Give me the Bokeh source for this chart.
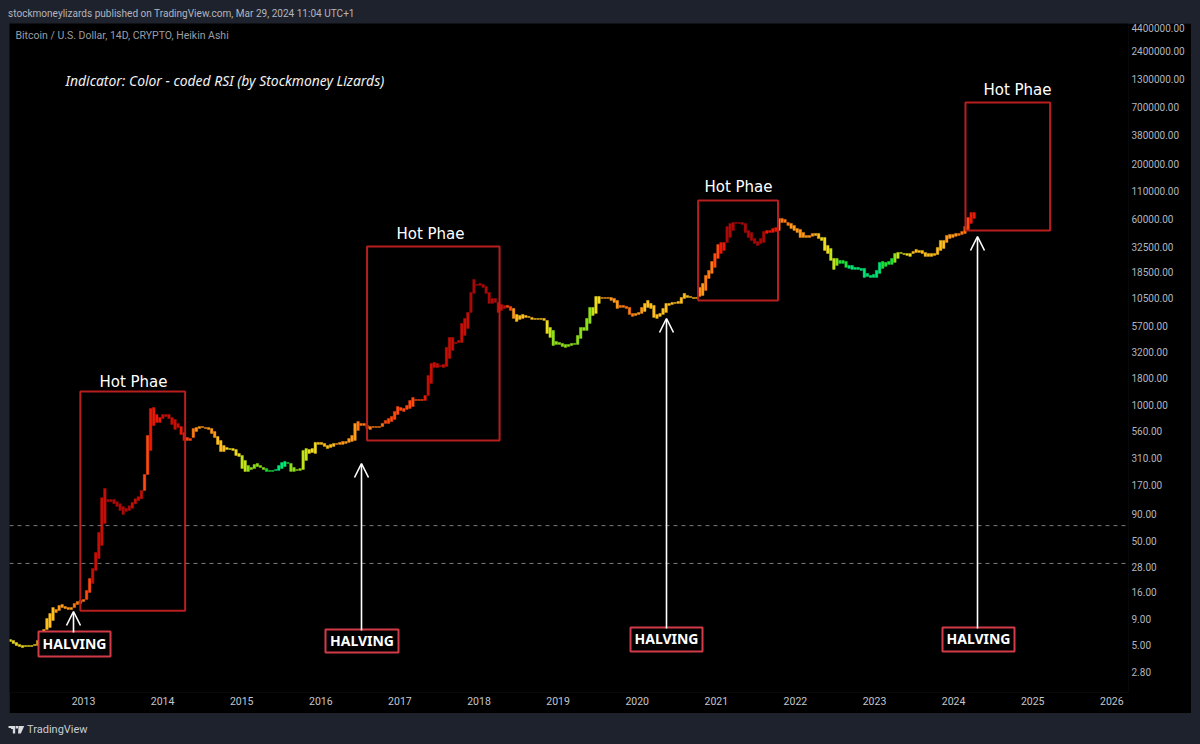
from bokeh.embed import file_html
from bokeh.layouts import column
from bokeh.resources import INLINE
from bokeh.plotting import figure
from bokeh.models import (ColumnDataSource, LinearColorMapper, FixedTicker, NumeralTickFormatter,
                          BasicTickFormatter, Range1d, Span, Label, Arrow, OpenHead)

# ---- data ----
bar_high = [5.67,5.55,5.31,5.08,4.97,4.97,4.97,4.97,5.08,5.55,
6.62,7.06,9.01,10.05,11.47,10.98,12.0,12.26,11.73,11.47,
11.47,12.53,13.1,13.39,13.69,16.69,21.75,27.1,38.6,59.9,
129,158,124,124,124,118,113,106,102,108,
116,126,132,151,215,508,921,941,806,756,
806,806,806,755,723,662,619,543,486,475,
593,606,619,619,606,606,593,555,497,455,
407,390,381,381,373,342,327,293,262,251,
268,274,262,251,245,235,235,240,262,280,
287,280,274,251,240,245,365,381,373,381,
436,436,436,426,407,417,426,426,436,445,
445,475,508,662,691,662,662,633,619,619,
619,619,662,707,739,772,862,961,941,921,
984,1098,1173,1122,1122,1122,1226,1905,2483,2540,
2483,2376,2430,3533,4404,4404,3945,4122,5998,6695,
7640,11880,15800,14160,14480,14160,13560,11880,10400,10400,
9525,9115,8920,8920,8725,8345,7310,7150,7310,7150,
7000,6845,6695,6695,6695,6695,6406,5490,5139,4030,
3944,3860,3775,3775,3860,3860,4602,5490,5490,6695,
8535,8535,10870,10870,10630,10630,10630,10630,10400,9955,
8920,8920,8725,8535,7475,7475,7640,8535,9320,9955,
9320,8920,7310,7475,8345,9320,9320,9525,9525,9740,
10630,11620,11100,10870,10630,10630,13260,14480,17280,19290,
23520,28050,34210,35750,35750,50870,54360,55560,55560,55560,
55560,54360,46580,44570,39060,36550,39060,45560,46580,46580,
48680,49760,60690,60690,59360,55560,54360,52000,48680,47620,
44570,41720,41720,43600,43600,43600,39920,39920,33470,31320,
25130,25130,24040,24040,23520,21530,21530,20620,20620,20160,
20160,18050,17280,17660,19290,23010,23520,23010,23520,25130,
28050,28670,28670,28050,28050,28050,29310,30640,29970,29970,
28670,28050,28050,28050,32020,37370,37370,41720,42650,42650,
43600,43600,45560,50870,62040,69270,69270]

bar_low = [5.43,5.19,4.97,4.86,4.75,4.86,4.86,4.86,4.97,4.97,
5.80,6.47,7.06,7.39,8.62,10.27,10.74,11.47,11.22,10.98,
10.98,11.47,12.26,12.53,13.1,13.69,15.97,19.47,25.9,33.8,
45,73.1,118,118,113,106,97.3,89.1,95.2,97.3,
102,113,121,126,151,215,365,633,677,677,
739,772,739,647,580,605,519,455,455,455,
486,555,593,606,593,580,531,486,417,357,
357,373,373,365,327,320,245,230,230,240,
245,256,251,240,230,230,230,235,235,245,
256,274,230,230,235,235,240,293,342,349,
342,417,417,399,381,390,399,417,417,417,
426,436,445,455,567,633,633,593,580,606,
606,606,619,662,662,691,723,806,881,862,
901,921,961,1098,1098,1098,1098,1226,1598,2273,
2273,2324,2273,2324,2773,3307,3860,3944,3944,4602,
5370,7640,11620,13860,13860,13260,11620,9320,9320,9525,
7640,7986,8345,8535,7986,6695,6267,6550,6695,6845,
6845,6550,6550,6550,6550,6406,4810,4404,3690,3775,
3775,3610,3533,3610,3690,3775,3775,4308,5139,5139,
5998,7150,7475,9320,10400,10400,10400,9955,9525,8345,
8535,8535,8345,7310,7000,7150,7310,7475,7810,8535,
8345,6845,6695,7000,7310,7640,8920,9115,9320,9320,
9320,10400,10630,10630,10400,10400,10870,11100,12410,16160,
18050,20620,25130,28050,29970,35750,39920,46580,54360,54360,
53170,44570,39920,37370,34980,33470,34980,35750,43600,44570,
44570,45560,46580,55560,55560,52000,48680,46580,44570,39920,
39920,39920,39920,40840,41720,39060,37370,29970,28050,24040,
19720,21530,22510,22510,20620,20160,19720,19720,19720,19290,
16520,16890,16520,16520,16520,18050,20160,21070,22010,22010,
23010,25130,28050,27440,26840,26260,28050,28670,28670,28050,
26260,26260,26260,26840,27440,29970,31320,35750,39060,39920,
40840,41720,42650,43600,46580,54360,60690]

bar_rsi = [52,52,52,52,52,52,52,52,52,57,
57,57,58,58,58,62,62,62,62,62,
62,68,68,68,68,72,74,80,82,80,
80,80,85,85,85,85,85,85,85,85,
80,80,80,80,72,73,76,76,76,76,
82,82,82,82,80,80,75,75,71,71,
66,62,60,60,60,60,60,60,57,57,
57,54,54,54,53,53,47,47,44,42,
42,42,42,42,38,36,36,33,33,33,
33,38,42,44,44,44,45,47,50,50,
53,55,55,55,55,57,57,60,60,60,
60,62,64,64,66,68,68,68,68,68,
68,68,68,70,70,70,72,73,72,72,
73,74,74,72,72,72,78,82,82,82,
82,82,82,84,84,84,80,80,82,82,
82,87,87,87,87,87,87,85,85,85,
80,80,80,70,70,64,58,58,58,58,
55,55,55,55,55,55,50,47,44,44,
44,42,42,42,44,44,44,42,42,44,
44,47,50,50,60,60,60,62,62,62,
65,65,67,67,67,62,62,60,58,58,
58,58,58,58,57,57,55,55,55,55,
57,57,58,58,58,58,64,64,66,67,
67,72,72,75,78,86,86,86,88,88,
88,86,86,86,86,86,86,86,78,78,
78,78,67,65,65,65,64,64,64,64,
64,60,60,60,58,58,53,50,50,45,
45,43,38,38,36,32,32,32,32,32,
31,31,31,31,34,34,35,35,35,37,
40,45,45,50,50,50,55,55,55,55,
56,56,56,56,56,57,57,62,63,63,
63,66,66,68,72,76,78]

first_bar_year = 2012.075
bar_step_year = 0.03856
year_ticks = [2013,2014,2015,2016,2017,2018,2019,2020,2021,2022,2023,2024,2025,2026]
price_ticks = [4400000,2400000,1300000,700000,380000,200000,110000,60000,32500,18500,10500,
               5700,3200,1800,1000,560,310,170,90,50,28,16,9,5,2.8]
level_prices = [69.7, 30.3]

hot_left = [2012.96, 2016.585, 2020.77, 2024.15]
hot_right = [2014.285, 2018.26, 2021.78, 2025.22]
hot_low = [10.7, 455, 9955, 46580]
hot_high = [1340, 32730, 90200, 780000]

# ---- page geometry: reference pixels -> chart coordinates (annotations only) ----
PAGE_W, PAGE_H = 1200, 744
CHART_L, CHART_R, CHART_T, CHART_B = 9, 1191, 23, 713
F_RIGHT, F_BOTTOM = 1128, 692
PX_PER_YEAR = 79.1
PX_PER_DECADE = 104.5
def year_at(px):
    return 2013 + (px - 83) / PX_PER_YEAR
def price_at(py):
    return 2.8 * 10 ** ((671 - py) / PX_PER_DECADE)

BG = "#1e222d"

def strip(height, top_px):
    """A plain figure of the page colour, in reference-pixel coordinates."""
    s = figure(width=PAGE_W, height=height, output_backend="svg", toolbar_location=None,
               x_range=Range1d(0, PAGE_W), y_range=Range1d(top_px + height, top_px),
               min_border=0, background_fill_color=BG, border_fill_color=BG,
               outline_line_color=None, x_axis_location=None, y_axis_location=None)
    s.grid.visible = False
    return s

header = strip(CHART_T, 0)
header.add_layout(Label(x=8, y=13, text="stockmoneylizards published on TradingView.com, Mar 29, 2024 11:04 UTC+1",
                        text_color="#b2b5be", text_font="Roboto", text_font_size="10.05px", text_baseline="middle"))

footer = strip(PAGE_H - CHART_B, CHART_B)
footer.add_layout(Label(x=28, y=729, text="TradingView", text_color="#c8ccd4", text_font="Roboto",
                        text_font_size="11px", text_baseline="middle"))
footer.patches(xs=[[8.5, 15.5, 15.5, 13, 13, 11, 11, 8.5], [19, 25, 21.5, 18.5], [16, 18.5, 18.5, 16]],
               ys=[[725.5, 725.5, 733, 733, 728.5, 728.5, 727.5, 727.5], [725.5, 725.5, 733, 733], [725.5, 725.5, 728, 728]],
               fill_color="#d8dbe0", line_color=None)

p = figure(width=CHART_R - CHART_L, height=CHART_B - CHART_T, output_backend="svg", toolbar_location=None,
           y_axis_type="log",
           x_range=Range1d(year_at(CHART_L), year_at(F_RIGHT)),
           y_range=Range1d(price_at(F_BOTTOM), price_at(CHART_T)),
           min_border_left=0, min_border_right=CHART_R - F_RIGHT,
           min_border_top=0, min_border_bottom=CHART_B - F_BOTTOM,
           background_fill_color="#000000", border_fill_color="#000000", outline_line_color=None,
           x_axis_location="below", y_axis_location="right", margin=(0, 0, 0, CHART_L))
p.grid.visible = False

ax = p.xaxis[0]
ax.ticker = FixedTicker(ticks=year_ticks)
ax.formatter = BasicTickFormatter(use_scientific=False, precision=0)
ax.axis_line_color = None
ax.major_tick_line_color = None
ax.minor_tick_line_color = None
ax.major_tick_out = 0
ax.major_tick_in = 0
ax.minor_tick_out = 0
ax.minor_tick_in = 0
ax.major_label_text_color = "#c3c6ce"
ax.major_label_text_font = "Roboto"
ax.major_label_text_font_size = "10.5px"
ax.major_label_standoff = 4

ay = p.yaxis[0]
ay.ticker = FixedTicker(ticks=price_ticks)
ay.formatter = NumeralTickFormatter(format="0.00")
ay.axis_line_color = None
ay.major_tick_line_color = None
ay.minor_tick_line_color = None
ay.major_tick_out = 0
ay.major_tick_in = 0
ay.minor_tick_out = 0
ay.minor_tick_in = 0
ay.major_label_text_color = "#b2b5be"
ay.major_label_text_font = "Roboto"
ay.major_label_text_font_size = "10px"
ay.major_label_standoff = 3

# ---- bars ----
n = len(bar_high)
assert n == len(bar_low) == len(bar_rsi), (n, len(bar_low), len(bar_rsi))
bar_year = [first_bar_year + i * bar_step_year for i in range(n)]
src = ColumnDataSource(dict(x=bar_year, top=bar_high, bottom=bar_low, rsi=bar_rsi))
palette = ["#00e676", "#22e03a", "#8fe01c", "#c4e41a", "#f0dc20", "#ffc020",
           "#ff9a1c", "#ff7a14", "#ff4a10", "#e81a08", "#c41008", "#a80a0a"]
mapper = LinearColorMapper(palette=palette, low=30, high=90)
p.vbar(x="x", top="top", bottom="bottom", width=0.032, source=src,
       fill_color={"field": "rsi", "transform": mapper},
       line_color={"field": "rsi", "transform": mapper}, line_width=0.4)

# ---- level lines ----
for lv in level_prices:
    p.add_layout(Span(location=lv, dimension="width", line_color="#7a7a7a", line_width=1,
                      line_dash=[4, 4]))

# ---- hot-phase boxes ----
p.quad(left=hot_left, right=hot_right, bottom=hot_low, top=hot_high, fill_alpha=0,
       line_color="#b81e1e", line_width=2)

# ---- halving arrows ----
arrow_x = [73, 361, 666, 977]
arrow_tip = [611, 463, 318, 236]
arrow_foot = [632, 630, 628, 628]
for ax_px, tip, foot in zip(arrow_x, arrow_tip, arrow_foot):
    p.add_layout(Arrow(end=OpenHead(size=14, line_color="#ffffff", line_width=1.6),
                       x_start=year_at(ax_px), x_end=year_at(ax_px),
                       y_start=price_at(foot), y_end=price_at(tip),
                       line_color="#ffffff", line_width=1.6))

# ---- halving tags ----
tag_l = [38, 325, 630, 942]
tag_r = [110, 398, 702, 1014]
tag_t = [631, 629, 627, 627]
tag_b = [656, 652, 651, 651]
p.quad(left=[year_at(v) for v in tag_l], right=[year_at(v) for v in tag_r],
       top=[price_at(v) for v in tag_t], bottom=[price_at(v) for v in tag_b],
       fill_color="#000000", line_color="#d23a48", line_width=2)

def text(s, px, py, size, color="#ffffff", font="Roboto", align="left", style="normal"):
    p.add_layout(Label(x=year_at(px), y=price_at(py), text=s, text_color=color, text_font=font,
                       text_font_size=size, text_align=align, text_baseline="middle",
                       text_font_style=style))

for l, r, t, b in zip(tag_l, tag_r, tag_t, tag_b):
    text("HALVING", (l + r) / 2, (t + b) / 2 - 1, "14px", font="Noto Sans", align="center", style="bold")

for s, px, py in [("Hot Phae", 133, 381), ("Hot Phae", 430, 233), ("Hot Phae", 738, 186), ("Hot Phae", 1017, 89)]:
    text(s, px, py, "15px", font="DejaVu Sans", align="center")

text("Indicator: Color - coded RSI (by Stockmoney Lizards)", 65, 80, "13.9px", font="Noto Sans", style="italic", color="#f0f0f0")
text("Bitcoin / U.S. Dollar, 14D, CRYPTO, Heikin Ashi", 15, 35, "10.5px", color="#9a9da6")

page = column(header, p, footer, spacing=0)
html = file_html(page, INLINE)
html = html.replace("<head>", "<head><style>html,body{background:%s}</style>" % BG, 1)
open("out.html", "w").write(html)
